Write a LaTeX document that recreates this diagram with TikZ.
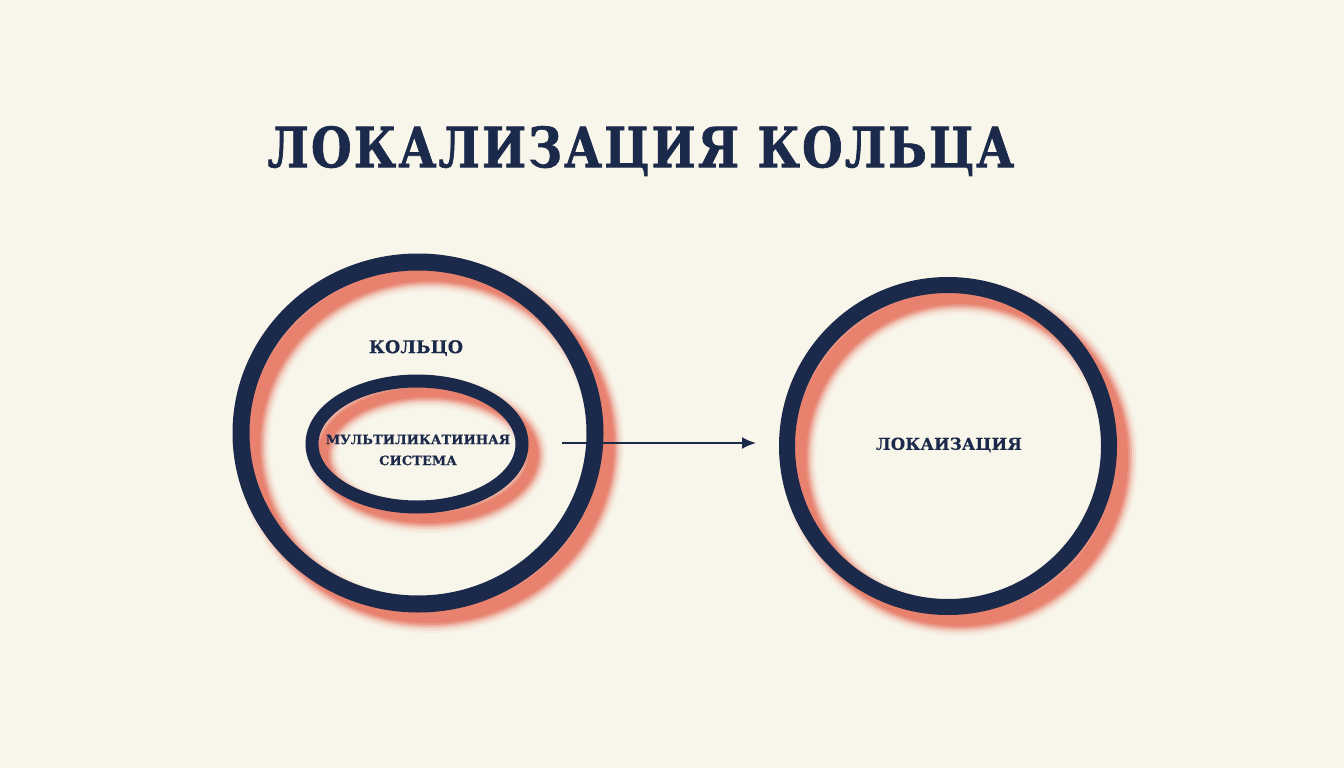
\documentclass[tikz,border=0pt]{standalone}
\usepackage{fontspec}
\setmainfont{DejaVu Serif}
\newfontfamily\titlefont{DejaVu Serif}[FakeStretch=0.84, LetterSpace=4, FakeBold=1.2]
\newfontfamily\labelfont{DejaVu Serif}[LetterSpace=1, FakeBold=0.6]
\usetikzlibrary{shapes.geometric,arrows.meta}
\definecolor{bgcream}{HTML}{F8F5EA}
\definecolor{navy}{HTML}{1B2A4A}
\definecolor{salmon}{HTML}{E8826E}
\begin{document}
\begin{tikzpicture}[x=1pt,y=-1pt,
  ring/.style={draw=navy, ellipse, inner sep=0pt, outer sep=0pt},
  lbl/.style={text=navy, font=\labelfont\bfseries, align=center, inner sep=0pt},
  arrowline/.style={draw=navy, line width=2pt, -{Latex[length=14pt,width=12pt]}}]
\fill[bgcream] (0,0) rectangle (1344,768);
\useasboundingbox (0,0) rectangle (1344,768);
% shadows (soft salmon rings, offset right-down)
\foreach \w/\o in {34/0.06, 30/0.10, 26/0.18, 22/0.35, 18/0.6, 14/1}{
  \draw[salmon, opacity=\o, line width=\w pt] (430,445) ellipse [x radius=177pt, y radius=171pt];
  \draw[salmon, opacity=\o, line width=\w pt] (960,458) ellipse [x radius=161pt, y radius=161pt];
}
\foreach \w/\o in {30/0.06, 26/0.10, 22/0.18, 18/0.35, 14/0.6, 10/1}{
  \draw[salmon, opacity=\o, line width=\w pt] (428,455) ellipse [x radius=105pt, y radius=63pt];
}
% rings
\node[ring, line width=17pt, minimum width=354pt, minimum height=342pt] (big) at (418,433) {};
\node[ring, line width=16pt, minimum width=322pt, minimum height=322pt] (loc) at (948,446) {};
\node[ring, line width=13pt, minimum width=210pt, minimum height=126pt] (inner) at (417,444) {};
% texts
\node[text=navy, font=\titlefont\bfseries\fontsize{55.5}{66}\selectfont, inner sep=0pt] (title) at (641,151) {ЛОКАЛИЗАЦИЯ КОЛЬЦА};
\node[lbl, font=\labelfont\bfseries\fontsize{17.5}{22}\selectfont] (ring) at (416,348) {КОЛЬЦО};
\node[lbl, font=\labelfont\bfseries\fontsize{12.9}{21}\selectfont] (multi) at (418,450) {МУЛЬТИЛИКАТИИНАЯ\\СИСТЕМА};
\node[lbl, font=\labelfont\bfseries\fontsize{16.5}{21}\selectfont] (locl) at (949,445) {ЛОКАИЗАЦИЯ};
% arrow
\coordinate (arrS) at (562,443);
\coordinate (arrE) at (756,443);
\draw[arrowline] (arrS) -- (arrE);
\end{tikzpicture}
\end{document}
